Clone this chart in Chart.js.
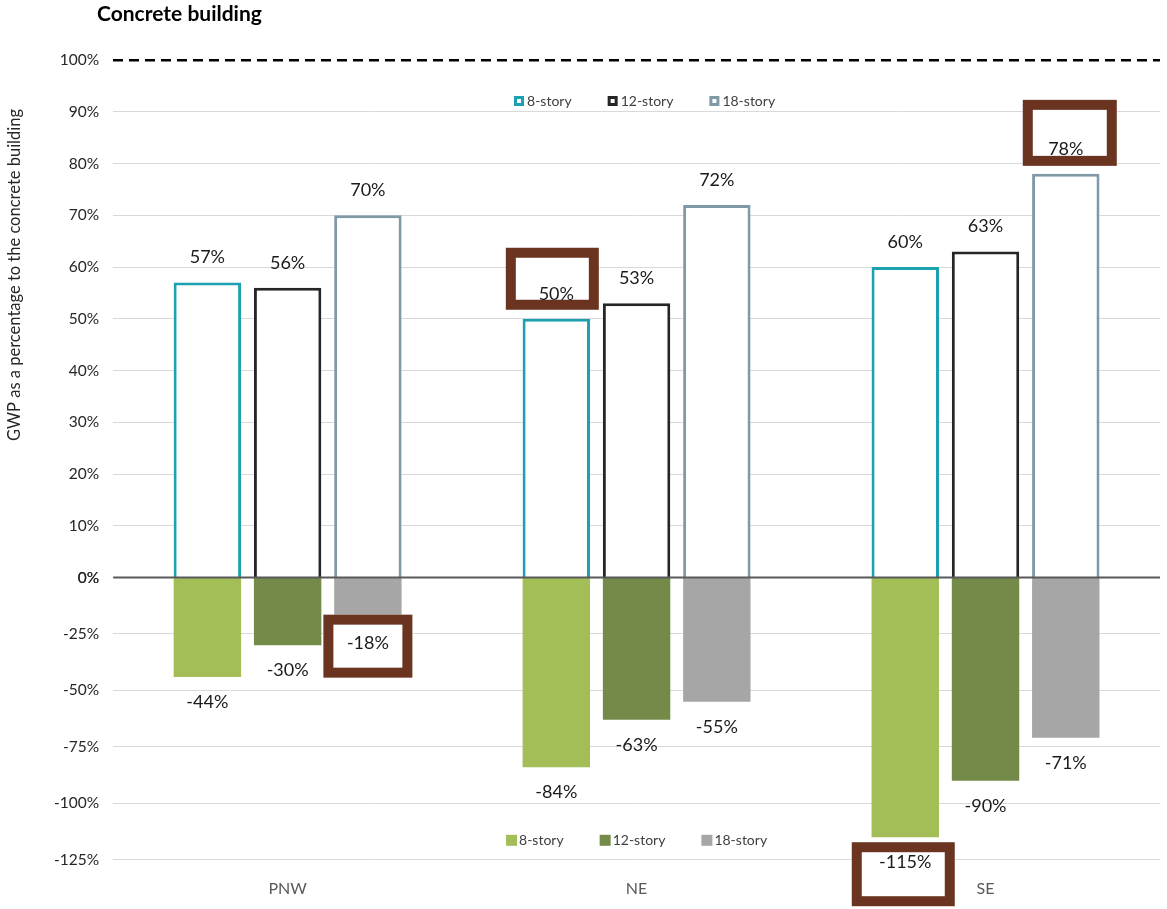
<!DOCTYPE html>
<html>
<head>
<meta charset="utf-8">
<script src="https://cdn.jsdelivr.net/npm/chart.js@4.4.1/dist/chart.umd.min.js"></script>
<style>
  html, body { margin: 0; padding: 0; background: #fff; }
  #wrap { width: 1167px; height: 909px; position: relative; }
</style>
</head>
<body>
<div id="wrap"><canvas id="gwp-chart"></canvas></div>
<script>
// data
const regions = ['PNW', 'NE', 'SE'];
const storyNames = ['8-story', '12-story', '18-story'];
const upper8 = [57, 50, 60];
const upper12 = [56, 53, 63];
const upper18 = [70, 72, 78];
const lower8 = [-44, -84, -115];
const lower12 = [-30, -63, -90];
const lower18 = [-18, -55, -71];
const upperTicks = [0, 10, 20, 30, 40, 50, 60, 70, 80, 90, 100];
const lowerTicks = [-125, -100, -75, -50, -25, 0];

// which labels get the brown box: [datasetIndex, regionIndex]
const highlighted = [[0, 1], [2, 2], [5, 0], [3, 2]];
// box placement relative to the label (style only)
const boxStyle = {
  '0-1': { dx: -4, dy: -15, w: 93, h: 62 },
  '2-2': { dx: 4, dy: -16, w: 94, h: 66 },
  '5-0': { dx: 0, dy: 3, w: 89, h: 63 },
  '3-2': { dx: -2, dy: 12, w: 103, h: 64 }
};

const FONT = 'Lato, "Open Sans", sans-serif';
const teal = '#1ba1b0';
const black = '#262626';
const slate = '#7f99a6';
const lightGreen = '#a3be57';
const darkGreen = '#738a48';
const grey = '#a6a6a6';
const brown = '#6b3421';

const barLabels = {
  id: 'barLabels',
  afterDatasetsDraw(chart) {
    const ctx = chart.ctx;
    const area = chart.chartArea;
    const y0 = chart.scales.yTop.getPixelForValue(0);
    ctx.save();
    // zero line over the bars
    ctx.strokeStyle = '#595959';
    ctx.lineWidth = 2;
    ctx.beginPath();
    ctx.moveTo(area.left, y0);
    ctx.lineTo(area.right, y0);
    ctx.stroke();

    ctx.font = '18px ' + FONT;
    ctx.textAlign = 'center';
    ctx.textBaseline = 'middle';
    chart.data.datasets.forEach((ds, d) => {
      const meta = chart.getDatasetMeta(d);
      meta.data.forEach((el, i) => {
        const v = ds.data[i];
        const ly = v >= 0 ? el.y - 25 : el.y + 25;
        const hit = highlighted.some(h => h[0] === d && h[1] === i);
        if (hit) {
          const b = boxStyle[d + '-' + i];
          const bx = el.x + b.dx - b.w / 2;
          const by = ly + b.dy - b.h / 2;
          ctx.fillStyle = '#fff';
          ctx.fillRect(bx, by, b.w, b.h);
          ctx.strokeStyle = brown;
          ctx.lineWidth = 10;
          ctx.strokeRect(bx + 5, by + 5, b.w - 10, b.h - 10);
        }
        ctx.fillStyle = '#1a1a1a';
        ctx.fillText(v + '%', el.x, ly);
      });
    });

    // the two legends
    const cx = (area.left + area.right) / 2;
    drawLegend(ctx, chart, [0, 1, 2], cx + 8, area.top + 41, true);
    drawLegend(ctx, chart, [3, 4, 5], cx, chart.scales.yBot.bottom - 19, false);
    ctx.restore();
  }
};

function drawLegend(ctx, chart, idx, cx, y, hollow) {
  ctx.font = '14px ' + FONT;
  ctx.textAlign = 'left';
  ctx.textBaseline = 'middle';
  const box = 10, gap = 3, spacing = 36;
  const widths = idx.map(d => box + gap + ctx.measureText(chart.data.datasets[d].label).width);
  const total = widths.reduce((a, b) => a + b, 0) + spacing * (idx.length - 1);
  let x = cx - total / 2;
  idx.forEach((d, k) => {
    const ds = chart.data.datasets[d];
    if (hollow) {
      ctx.fillStyle = ds.borderColor;
      ctx.fillRect(x, y - box / 2, box, box);
      ctx.fillStyle = '#fff';
      ctx.fillRect(x + 3, y - box / 2 + 3, box - 6, box - 6);
    } else {
      ctx.fillStyle = ds.backgroundColor;
      ctx.fillRect(x, y - box / 2 - 1, box + 1, box + 1);
    }
    ctx.fillStyle = '#404040';
    ctx.fillText(ds.label, x + box + gap, y);
    x += widths[k] + spacing;
  });
}

const chartTitles = {
  id: 'chartTitles',
  afterDraw(chart) {
    const ctx = chart.ctx;
    ctx.save();
    ctx.font = 'bold 21px ' + FONT;
    ctx.fillStyle = '#000';
    ctx.textBaseline = 'middle';
    ctx.fillText('Concrete building', 97, 14);
    // y axis title
    ctx.translate(15, 275);
    ctx.rotate(-Math.PI / 2);
    ctx.font = '16.5px ' + FONT;
    ctx.fillStyle = '#262626';
    ctx.textAlign = 'center';
    ctx.fillText('GWP as a percentage to the concrete building', 0, 0);
    ctx.restore();
  }
};

const tickFont = { size: 15.5, family: FONT };

new Chart(document.getElementById('gwp-chart'), {
  type: 'bar',
  data: {
    labels: regions,
    datasets: [
      { label: storyNames[0], data: upper8, yAxisID: 'yTop', stack: 's8', backgroundColor: '#fff', borderColor: teal, borderWidth: 3 },
      { label: storyNames[1], data: upper12, yAxisID: 'yTop', stack: 's12', backgroundColor: '#fff', borderColor: black, borderWidth: 3 },
      { label: storyNames[2], data: upper18, yAxisID: 'yTop', stack: 's18', backgroundColor: '#fff', borderColor: slate, borderWidth: 3 },
      { label: storyNames[0], data: lower8, yAxisID: 'yBot', stack: 's8', backgroundColor: lightGreen, borderWidth: 0 },
      { label: storyNames[1], data: lower12, yAxisID: 'yBot', stack: 's12', backgroundColor: darkGreen, borderWidth: 0 },
      { label: storyNames[2], data: lower18, yAxisID: 'yBot', stack: 's18', backgroundColor: grey, borderWidth: 0 }
    ]
  },
  options: {
    responsive: true,
    maintainAspectRatio: false,
    animation: false,
    layout: { padding: { top: 60, right: 7, bottom: -8, left: 40 } },
    datasets: { bar: { barPercentage: 0.84, categoryPercentage: 0.69 } },
    plugins: {
      legend: { display: false },
      tooltip: { enabled: false }
    },
    scales: {
      x: {
        grid: { display: false, drawTicks: false },
        border: { display: false },
        ticks: { color: '#595959', font: { size: 16, family: FONT }, padding: 19 }
      },
      yTop: {
        position: 'left',
        stack: 'gwp',
        stackWeight: 517,
        weight: 2,
        min: 0,
        max: 100,
        afterBuildTicks: s => { s.ticks = upperTicks.map(v => ({ value: v })); },
        ticks: { callback: v => v + '%', color: '#262626', font: tickFont, padding: 14 },
        grid: {
          drawTicks: false,
          color: c => c.tick && c.tick.value === 100 ? '#000' : (c.tick && c.tick.value === 0 ? 'rgba(0,0,0,0)' : '#d9d9d9'),
          lineWidth: c => c.tick && c.tick.value === 100 ? 2.5 : 1
        },
        border: { display: false, dash: c => c.tick && c.tick.value === 100 ? [10, 6] : [] }
      },
      yBot: {
        position: 'left',
        stack: 'gwp',
        stackWeight: 282,
        weight: 1,
        min: -125,
        max: 0,
        afterBuildTicks: s => { s.ticks = lowerTicks.map(v => ({ value: v })); },
        ticks: { callback: v => v + '%', color: '#262626', font: tickFont, padding: 14 },
        grid: {
          drawTicks: false,
          color: c => c.tick && c.tick.value === 0 ? 'rgba(0,0,0,0)' : '#d9d9d9',
          lineWidth: 1
        },
        border: { display: false }
      }
    }
  },
  plugins: [barLabels, chartTitles]
});
</script>
</body>
</html>
